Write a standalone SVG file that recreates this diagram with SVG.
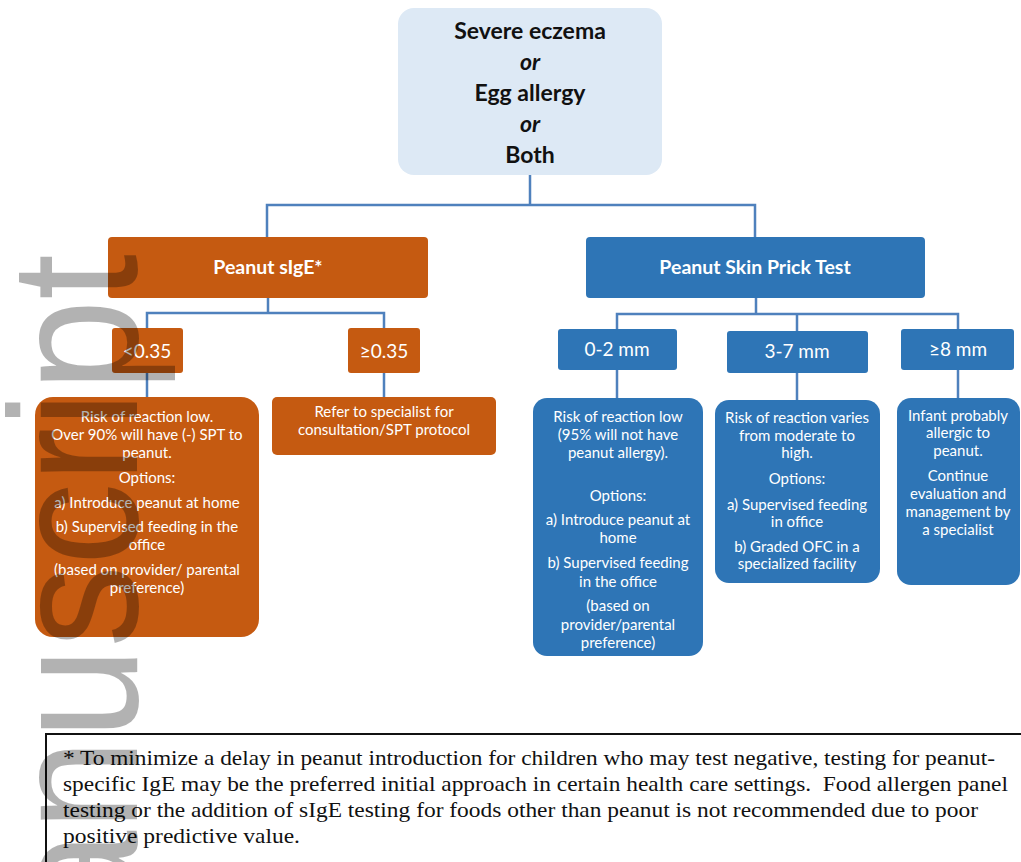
<svg xmlns="http://www.w3.org/2000/svg" width="1021" height="862" viewBox="0 0 1021 862">
<style>
.conn{stroke:#4f81bd;stroke-width:2.5;fill:none}
.or{fill:#c55a11}
.bl{fill:#2e75b6}
.t{font-family:Lato,"Open Sans",sans-serif;fill:#ffffff;text-anchor:middle}
.b{font-size:15px}
.h{font-size:19.5px;font-weight:bold}
.s{font-size:19px}
.top{font-family:Lato,"Open Sans",sans-serif;font-size:23px;font-weight:bold;fill:#111;text-anchor:middle}
.foot{font-family:"Liberation Serif","Times New Roman",serif;font-size:21px;fill:#111}
</style>
<rect width="1021" height="862" fill="#ffffff"/>
<g id="connectors">
<path class="conn" d="M530 175V205M267 237V205H755V237"/>
<path class="conn" d="M268 298V313M147 328V313H384V328M147 373V397M384 373V397"/>
<path class="conn" d="M756 298V314M617 329V314H958V329M797 314V331M617 370V398M797 373V400M958 370V398"/>
</g>
<g id="start">
<rect x="398" y="8" width="264" height="167" rx="16" fill="#dde9f5"/>
<text class="top" x="530" y="39">Severe eczema</text>
<text class="top" x="530" y="70" font-style="italic">or</text>
<text class="top" x="530" y="101">Egg allergy</text>
<text class="top" x="530" y="132" font-style="italic">or</text>
<text class="top" x="530" y="163">Both</text>
</g>
<g id="sige">
<rect class="or" x="108" y="237" width="320" height="61" rx="4"/>
<text class="t h" x="268" y="274">Peanut sIgE*</text>
</g>
<g id="spt">
<rect class="bl" x="586" y="237" width="339" height="61" rx="4"/>
<text class="t h" x="755" y="274">Peanut Skin Prick Test</text>
</g>
<g id="lt035">
<rect class="or" x="112" y="328" width="71" height="45" rx="3"/>
<text class="t s" x="147" y="358">&lt;0.35</text>
</g>
<g id="ge035">
<rect class="or" x="348" y="328" width="72" height="45" rx="3"/>
<text class="t s" x="384" y="358">≥0.35</text>
</g>
<g id="mm02">
<rect class="bl" x="558" y="329" width="119" height="41" rx="3"/>
<text class="t s" x="617" y="356">0-2 mm</text>
</g>
<g id="mm37">
<rect class="bl" x="727" y="331" width="141" height="42" rx="3"/>
<text class="t s" x="797" y="358">3-7 mm</text>
</g>
<g id="mm8">
<rect class="bl" x="901" y="329" width="113" height="41" rx="3"/>
<text class="t s" x="958" y="356">≥8 mm</text>
</g>
<g id="lowsige">
<rect class="or" x="35" y="397" width="224" height="240" rx="18"/>
<text class="t b" x="147" y="422">Risk of reaction low.</text>
<text class="t b" x="147" y="440">Over 90% will have (-) SPT to</text>
<text class="t b" x="147" y="458">peanut.</text>
<text class="t b" x="147" y="483">Options:</text>
<text class="t b" x="147" y="508">a) Introduce peanut at home</text>
<text class="t b" x="147" y="532">b) Supervised feeding in the</text>
<text class="t b" x="147" y="550">office</text>
<text class="t b" x="147" y="575">(based on provider/ parental</text>
<text class="t b" x="147" y="593">preference)</text>
</g>
<g id="refer">
<rect class="or" x="272" y="397" width="224" height="58" rx="5"/>
<text class="t b" x="384" y="417">Refer to specialist for</text>
<text class="t b" x="384" y="435">consultation/SPT protocol</text>
</g>
<g id="low02">
<rect class="bl" x="533" y="398" width="170" height="258" rx="14"/>
<text class="t b" x="618" y="422">Risk of reaction low</text>
<text class="t b" x="618" y="440">(95% will not have</text>
<text class="t b" x="618" y="458">peanut allergy).</text>
<text class="t b" x="618" y="501">Options:</text>
<text class="t b" x="618" y="525">a) Introduce peanut at</text>
<text class="t b" x="618" y="543">home</text>
<text class="t b" x="618" y="568">b) Supervised feeding</text>
<text class="t b" x="618" y="587">in the office</text>
<text class="t b" x="618" y="611">(based on</text>
<text class="t b" x="618" y="630">provider/parental</text>
<text class="t b" x="618" y="648">preference)</text>
</g>
<g id="mod37">
<rect class="bl" x="715" y="400" width="165" height="183" rx="14"/>
<text class="t b" x="797" y="423">Risk of reaction varies</text>
<text class="t b" x="797" y="441">from moderate to</text>
<text class="t b" x="797" y="458">high.</text>
<text class="t b" x="797" y="484">Options:</text>
<text class="t b" x="797" y="510">a) Supervised feeding</text>
<text class="t b" x="797" y="527">in office</text>
<text class="t b" x="797" y="552">b) Graded OFC in a</text>
<text class="t b" x="797" y="569">specialized facility</text>
</g>
<g id="high8">
<rect class="bl" x="897" y="398" width="123" height="187" rx="14"/>
<text class="t b" x="958" y="421">Infant probably</text>
<text class="t b" x="958" y="438">allergic to</text>
<text class="t b" x="958" y="456">peanut.</text>
<text class="t b" x="958" y="481">Continue</text>
<text class="t b" x="958" y="499">evaluation and</text>
<text class="t b" x="958" y="517">management by</text>
<text class="t b" x="958" y="535">a specialist</text>
</g>
<g id="footnote">
<path d="M46 862V734H1021" stroke="#111" stroke-width="2" fill="none"/>
<text class="foot" x="63" y="765" textLength="932" lengthAdjust="spacingAndGlyphs">* To minimize a delay in peanut introduction for children who may test negative, testing for peanut-</text>
<text class="foot" x="63" y="791" textLength="945" lengthAdjust="spacingAndGlyphs" xml:space="preserve">specific IgE may be the preferred initial approach in certain health care settings.  Food allergen panel</text>
<text class="foot" x="63" y="817" textLength="915" lengthAdjust="spacingAndGlyphs">testing or the addition of sIgE testing for foods other than peanut is not recommended due to poor</text>
<text class="foot" x="63" y="843" textLength="237" lengthAdjust="spacingAndGlyphs">positive predictive value.</text>
</g>
<text transform="translate(137,254) rotate(-90) scale(0.91,1)" text-anchor="end" font-family="'Liberation Sans',Arial,sans-serif" font-size="181" fill="#000" fill-opacity="0.3">Manuscript</text>
</svg>
